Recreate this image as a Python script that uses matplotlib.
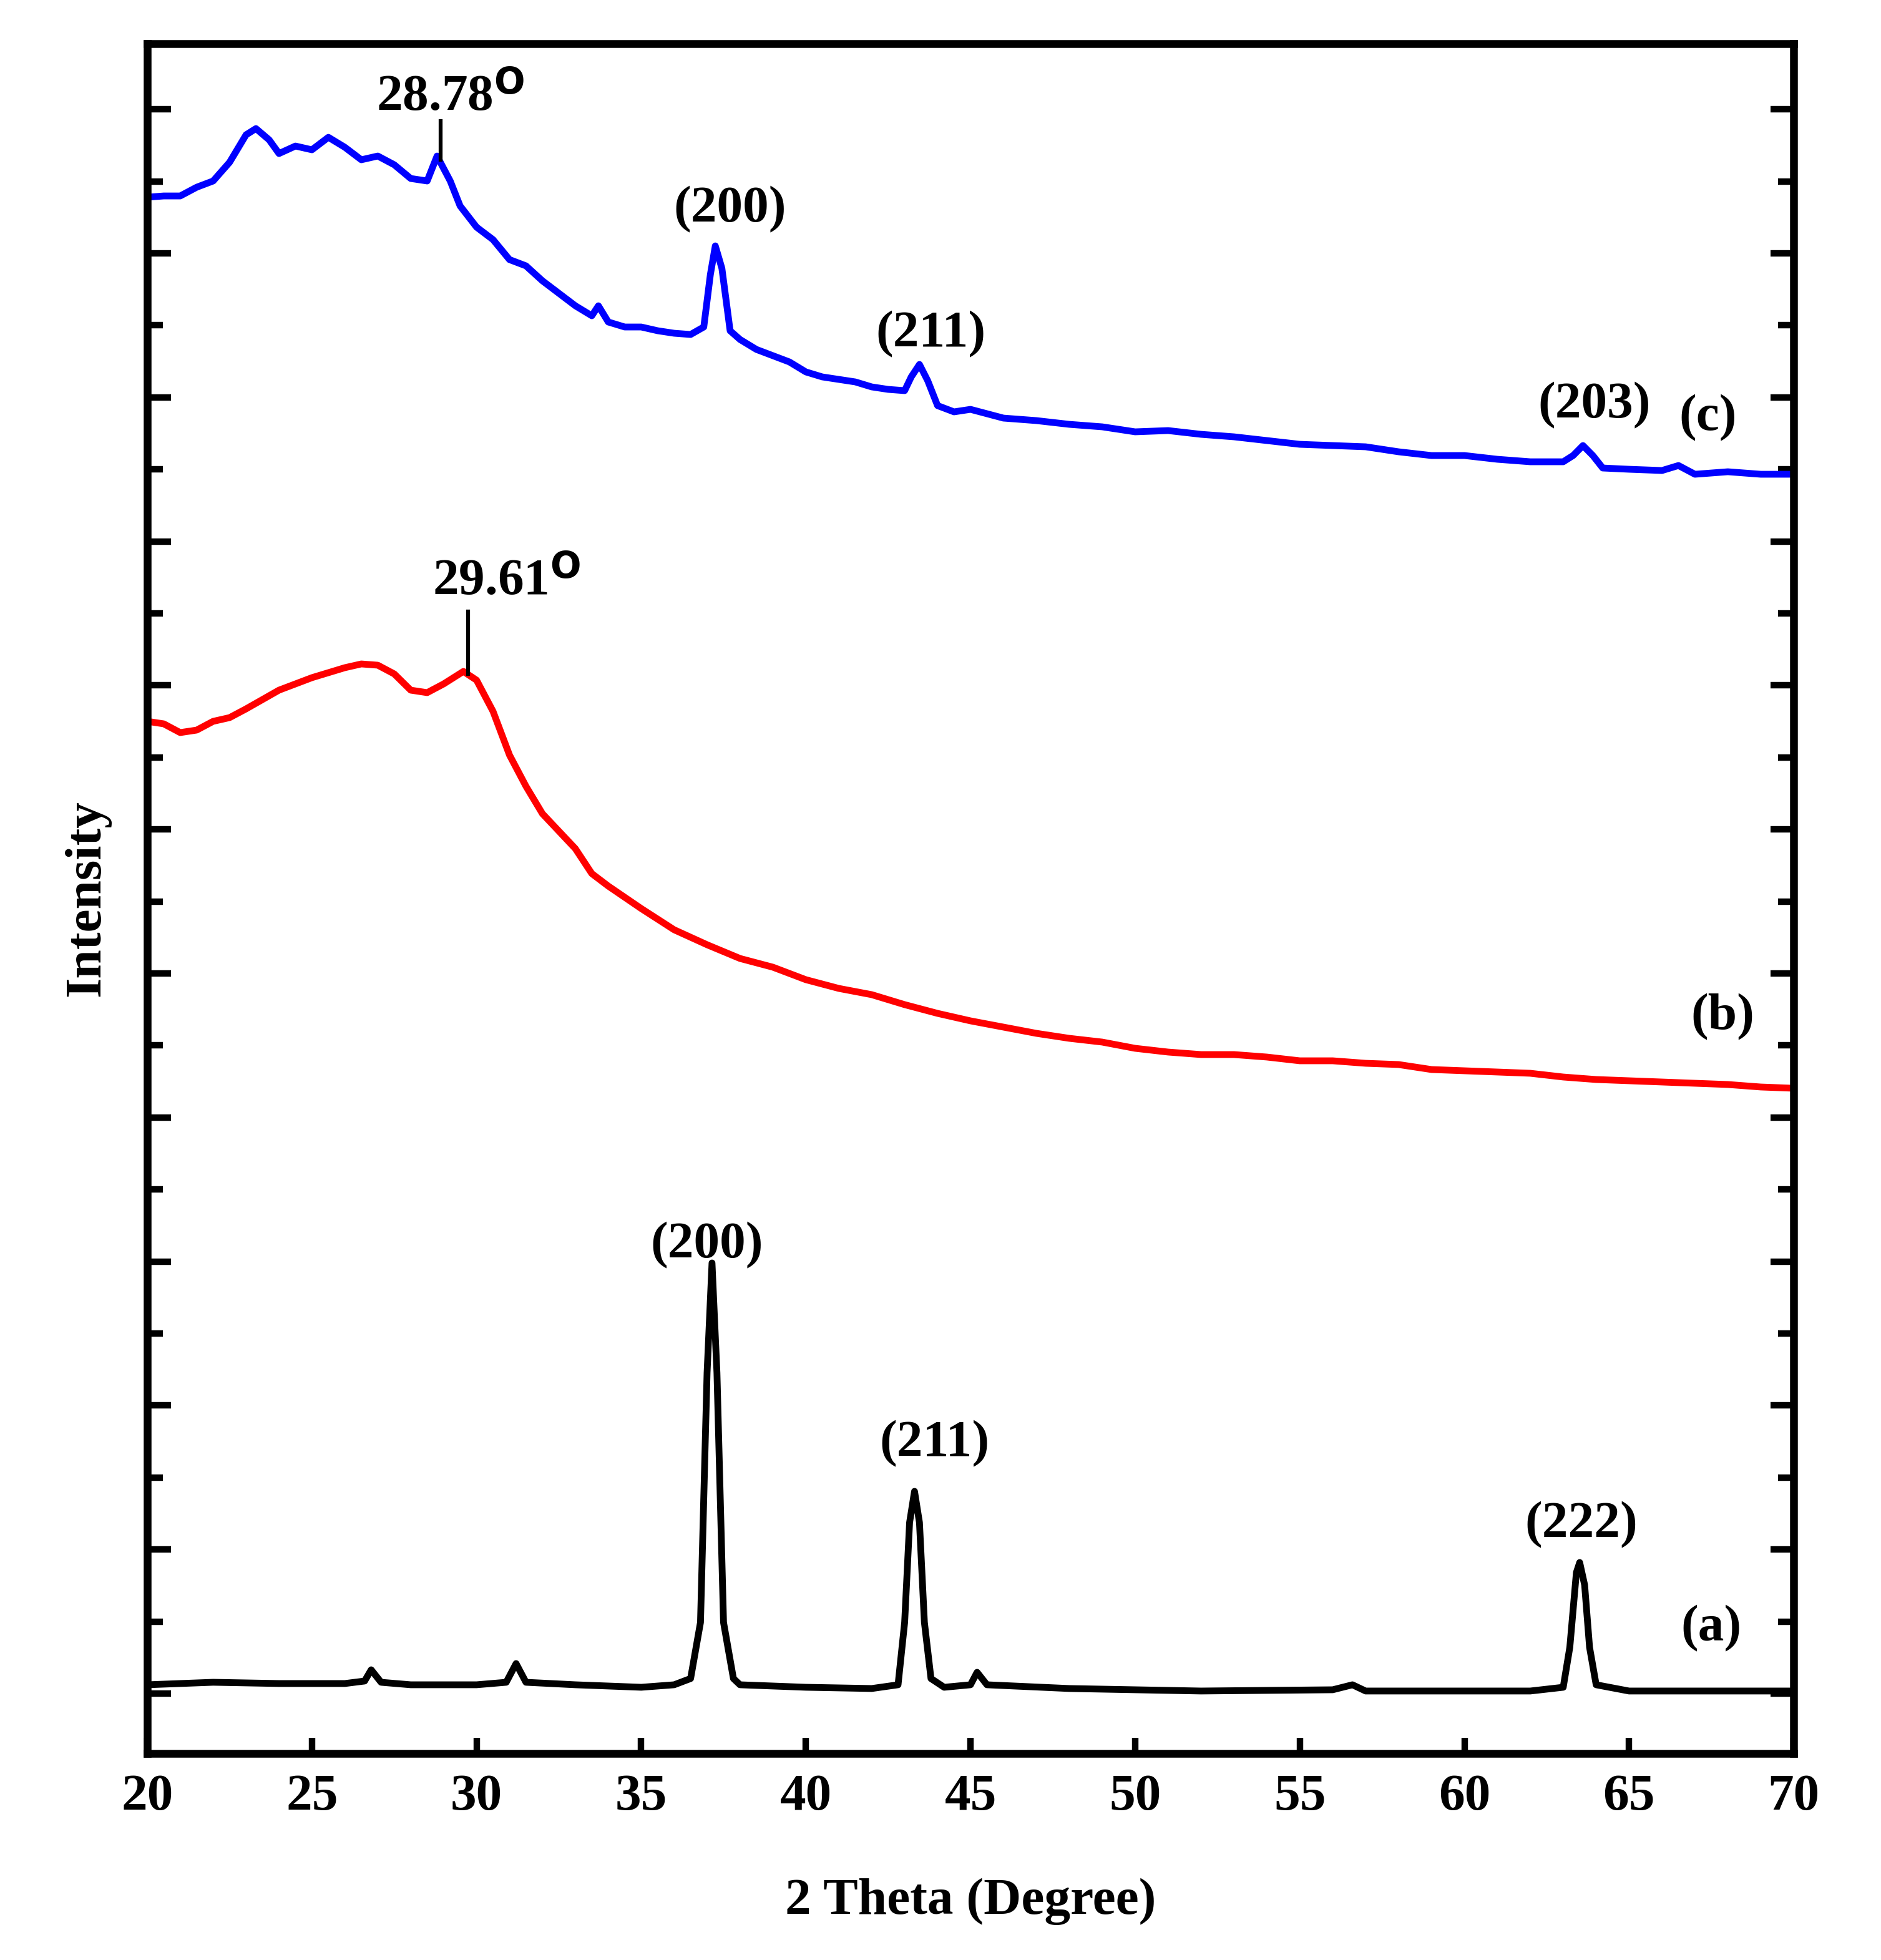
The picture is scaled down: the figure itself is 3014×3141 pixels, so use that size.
import numpy as np
import matplotlib.pyplot as plt
from matplotlib.ticker import MultipleLocator

plt.rcParams['font.family'] = ['Liberation Serif', 'DejaVu Serif']
plt.rcParams['font.weight'] = 'bold'
plt.rcParams['mathtext.default'] = 'regular'

TOP = 1405  # values below are read as picture rows, flipped to intensity

# (a) black
a_x = [20, 22, 24, 26, 26.6, 26.8, 27.1, 28, 30, 30.9, 31.2, 31.5, 33, 35, 36, 36.5, 36.8, 37.0, 37.15,
       37.3, 37.5, 37.8, 38, 40, 42, 42.8, 43.0, 43.15, 43.3, 43.45, 43.6, 43.8, 44.2, 45, 45.2, 45.5,
       48, 52, 56, 56.6, 57, 60, 62, 63, 63.2, 63.4, 63.5, 63.65, 63.8, 64, 65, 70]
a_y = [1350, 1348, 1349, 1349, 1347, 1338, 1348, 1350, 1350, 1348, 1333, 1348, 1350, 1352, 1350, 1345, 1300,
       1100, 1012, 1100, 1300, 1345, 1350, 1352, 1353, 1350, 1300, 1220, 1195, 1220, 1300, 1345, 1352, 1350,
       1340, 1350, 1353, 1355, 1354, 1350, 1355, 1355, 1355, 1352, 1320, 1260, 1252, 1270, 1320, 1350, 1355, 1355]

# (b) red
b_x = [20, 20.5, 21, 21.5, 22, 22.5, 23, 24, 25, 26, 26.5, 27, 27.5, 28, 28.5, 29, 29.6, 30, 30.5, 31,
       31.5, 32, 33, 33.5, 34, 35, 36, 37, 38, 39, 40, 41, 42, 43, 44, 45, 46, 47, 48, 49, 50, 51, 52, 53,
       54, 55, 56, 57, 58, 59, 60, 61, 62, 63, 64, 65, 66, 67, 68, 69, 70]
b_y = [578, 580, 587, 585, 578, 575, 568, 553, 543, 535, 532, 533, 540, 553, 555, 548, 538, 545, 570, 605,
       630, 652, 680, 700, 710, 728, 745, 757, 768, 775, 785, 792, 797, 805, 812, 818, 823, 828, 832, 835,
       840, 843, 845, 845, 847, 850, 850, 852, 853, 857, 858, 859, 860, 863, 865, 866, 867, 868, 869, 871, 872]

# (c) blue
c_x = [20, 20.5, 21, 21.5, 22, 22.5, 23, 23.3, 23.7, 24, 24.5, 25, 25.5, 26, 26.5, 27, 27.5, 28, 28.5,
       28.8, 29.2, 29.5, 30, 30.5, 31, 31.5, 32, 32.5, 33, 33.5, 33.7, 34, 34.5, 35, 35.5, 36, 36.5, 36.9,
       37.1, 37.25, 37.45, 37.7, 38, 38.5, 39, 39.5, 40, 40.5, 41, 41.5, 42, 42.5, 43, 43.2, 43.45, 43.7,
       44, 44.5, 45, 46, 47, 48, 49, 50, 51, 52, 53, 54, 55, 56, 57, 58, 59, 60, 61, 62, 63, 63.3, 63.6,
       63.9, 64.2, 65, 66, 66.5, 67, 68, 69, 70]
c_y = [158, 157, 157, 150, 145, 130, 108, 103, 112, 123, 117, 120, 110, 118, 128, 125, 132, 143, 145,
       125, 145, 165, 182, 192, 208, 213, 225, 235, 245, 253, 245, 258, 262, 262, 265, 267, 268, 262,
       220, 197, 215, 265, 272, 280, 285, 290, 298, 302, 304, 306, 310, 312, 313, 302, 292, 305,
       325, 330, 328, 335, 337, 340, 342, 346, 345, 348, 350, 353, 356, 357, 358, 362, 365, 365, 368, 370,
       370, 365, 357, 365, 375, 376, 377, 373, 380, 378, 380, 380]

fig = plt.figure(figsize=(3014 / 300, 3141 / 300), dpi=300)
ax = fig.add_axes([0.0783, 0.1054, 0.8753, 0.8723])

lw = 2.6
ax.plot(a_x, TOP - np.array(a_y), color='black', lw=lw)
ax.plot(b_x, TOP - np.array(b_y), color='red', lw=lw)
ax.plot(c_x, TOP - np.array(c_y), color='blue', lw=lw)

fs = 20
def label(x, row, s):
    ax.text(x, TOP - row, s, ha='center', va='center', fontsize=fs, fontweight='bold')

label(37.7, 168, '(200)')
label(43.8, 268, '(211)')
label(63.95, 325, '(203)')
label(67.4, 335, '(c)')
label(67.85, 815, '(b)')
label(67.5, 1305, '(a)')
label(37.0, 998, '(200)')
label(43.9, 1157, '(211)')
label(63.55, 1222, '(222)')

ax.text(29.2, TOP - 97, '28.78$^{\\mathbf{O}}$', ha='center', va='bottom', fontsize=fs, fontweight='bold')
ax.plot([28.9, 28.9], [TOP - 128, TOP - 97], color='black', lw=1.5)
ax.text(30.9, TOP - 485, '29.61$^{\\mathbf{O}}$', ha='center', va='bottom', fontsize=fs, fontweight='bold')
ax.plot([29.75, 29.75], [TOP - 540, TOP - 490], color='black', lw=1.5)

ax.set_xlim(20, 70)
ax.set_ylim(0, TOP - 35)
ax.xaxis.set_major_locator(MultipleLocator(5))
ax.yaxis.set_major_locator(MultipleLocator(115.4))
ax.yaxis.set_minor_locator(MultipleLocator(57.7))
ax.set_yticks(np.arange(TOP - 1357, TOP - 35, 115.4))
ax.set_yticks(np.arange(TOP - 1357 + 57.7, TOP - 35, 115.4), minor=True)
ax.tick_params(axis='y', which='both', direction='in', left=True, right=True, labelleft=False,
               width=2.5)
ax.tick_params(axis='y', which='major', length=9)
ax.tick_params(axis='y', which='minor', length=6)
ax.tick_params(axis='x', direction='in', length=6, width=2.5, labelsize=fs, pad=8)
for lab in ax.get_xticklabels():
    lab.set_fontweight('bold')
for sp in ax.spines.values():
    sp.set_linewidth(3)

ax.set_xlabel('2 Theta (Degree)', fontsize=fs, fontweight='bold', labelpad=22)
ax.set_ylabel('Intensity', fontsize=fs, fontweight='bold', labelpad=14)

fig.savefig('out.png', dpi=300)
